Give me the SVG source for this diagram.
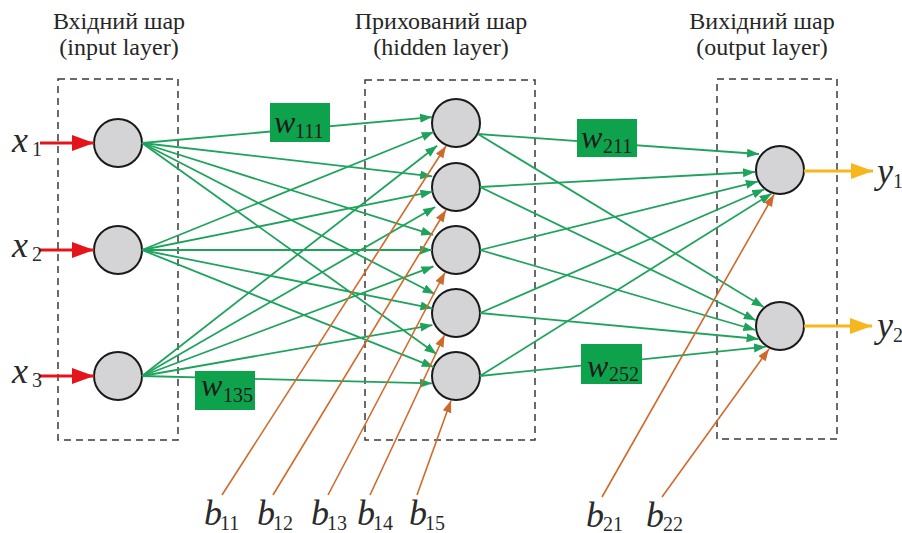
<svg xmlns="http://www.w3.org/2000/svg" width="902" height="533" viewBox="0 0 902 533">
<defs>
<marker id="ag" markerUnits="userSpaceOnUse" markerWidth="13" markerHeight="10" refX="12" refY="4.5" orient="auto"><path d="M0,0 L12,4.5 L0,9 Z" fill="#1fa35c"/></marker>
<marker id="ao" markerUnits="userSpaceOnUse" markerWidth="13" markerHeight="10" refX="12" refY="4.5" orient="auto"><path d="M0,0 L12,4.5 L0,9 Z" fill="#cf6a2a"/></marker>
<marker id="ar" markerUnits="userSpaceOnUse" markerWidth="23" markerHeight="17" refX="22" refY="8" orient="auto"><path d="M0,0 L22,8 L0,16 Z" fill="#e5141b"/></marker>
<marker id="ay" markerUnits="userSpaceOnUse" markerWidth="23" markerHeight="17" refX="22" refY="8" orient="auto"><path d="M0,0 L22,8 L0,16 Z" fill="#f6b71c"/></marker>
</defs>
<rect width="902" height="533" fill="#ffffff"/>

<g id="titles" fill="#262626">
<text font-family="Liberation Serif" font-size="24" text-anchor="middle" x="119" y="29">Вхідний шар</text>
<text font-family="Liberation Serif" font-size="24" text-anchor="middle" x="119" y="55">(input layer)</text>
<text font-family="Liberation Serif" font-size="24" text-anchor="middle" x="441" y="29">Прихований шар</text>
<text font-family="Liberation Serif" font-size="24" text-anchor="middle" x="441" y="55">(hidden layer)</text>
<text font-family="Liberation Serif" font-size="24" text-anchor="middle" x="762" y="29">Вихідний шар</text>
<text font-family="Liberation Serif" font-size="24" text-anchor="middle" x="762" y="55">(output layer)</text>
</g>

<g id="layers" fill="none" stroke="#3a3a3a" stroke-width="1.5" stroke-dasharray="7 5">
<rect x="58" y="79" width="120" height="361"/>
<rect x="365" y="80" width="170" height="360"/>
<rect x="717" y="79" width="120" height="360"/>
</g>

<g id="nodes" fill="#d4d4d7" stroke="#1a1a1a" stroke-width="2">
<g id="in1"><circle cx="118" cy="143" r="24"/></g>
<g id="in2"><circle cx="118" cy="250" r="24"/></g>
<g id="in3"><circle cx="118" cy="376" r="24"/></g>
<g id="h1"><circle cx="456" cy="123" r="24"/></g>
<g id="h2"><circle cx="456" cy="187" r="24"/></g>
<g id="h3"><circle cx="456" cy="250" r="24"/></g>
<g id="h4"><circle cx="456" cy="313" r="24"/></g>
<g id="h5"><circle cx="456" cy="376" r="24"/></g>
<g id="out1"><circle cx="780" cy="170" r="24"/></g>
<g id="out2"><circle cx="780" cy="326" r="24"/></g>
</g>

<g id="connectors" fill="none">
<g id="inputs" stroke="#e5141b" stroke-width="3" marker-end="url(#ar)">
<line x1="40" y1="143" x2="94" y2="143"/>
<line x1="40" y1="250" x2="94" y2="250"/>
<line x1="40" y1="376" x2="94" y2="376"/>
</g>
<g id="weights-links" stroke="#1fa35c" stroke-width="1.8" marker-end="url(#ag)">
<line x1="142" y1="143" x2="432.1" y2="117.1"/>
<line x1="142" y1="143" x2="432.2" y2="176.3"/>
<line x1="142" y1="143" x2="433.1" y2="234.8"/>
<line x1="142" y1="143" x2="434.7" y2="294"/>
<line x1="142" y1="143" x2="436.5" y2="354"/>
<line x1="142" y1="250" x2="433.7" y2="132"/>
<line x1="142" y1="250" x2="432.5" y2="191.7"/>
<line x1="142" y1="250" x2="432" y2="250"/>
<line x1="142" y1="250" x2="432.5" y2="308.3"/>
<line x1="142" y1="250" x2="433.7" y2="367.1"/>
<line x1="142" y1="376" x2="437.1" y2="145.8"/>
<line x1="142" y1="376" x2="435.2" y2="207"/>
<line x1="142" y1="376" x2="433.5" y2="266.4"/>
<line x1="142" y1="376" x2="432.4" y2="325.1"/>
<line x1="142" y1="376" x2="432" y2="383.4"/>
<line x1="478" y1="134" x2="759" y2="154"/>
<line x1="480" y1="187" x2="755" y2="172"/>
<line x1="480" y1="250" x2="757.8" y2="181.6"/>
<line x1="480" y1="313" x2="764.2" y2="189.3"/>
<line x1="480" y1="376" x2="771.6" y2="193.5"/>
<line x1="478" y1="134" x2="763.7" y2="307"/>
<line x1="480" y1="187" x2="755.7" y2="320.2"/>
<line x1="480" y1="250" x2="755.3" y2="330"/>
<line x1="480" y1="313" x2="758.6" y2="339"/>
<line x1="480" y1="376" x2="765.9" y2="346.7"/>
</g>
<g id="biases" stroke="#cf6a2a" stroke-width="1.6" marker-end="url(#ao)">
<line x1="222" y1="495" x2="446" y2="146"/>
<line x1="273" y1="495" x2="446" y2="210"/>
<line x1="328" y1="495" x2="445" y2="272.5"/>
<line x1="370" y1="495" x2="444.5" y2="335"/>
<line x1="417" y1="495" x2="451" y2="400.5"/>
<line x1="602" y1="497" x2="774" y2="194.5"/>
<line x1="662" y1="497" x2="769" y2="349"/>
</g>
<g id="outputs" stroke="#f6b71c" stroke-width="3" marker-end="url(#ay)">
<line x1="804" y1="171" x2="873" y2="171"/>
<line x1="804" y1="326" x2="872" y2="326"/>
</g>
</g>

<g id="weights">
<g id="w111"><rect fill="#0fa24c" x="270" y="103" width="60" height="39"/><text font-family="Liberation Serif" font-style="italic" font-size="32" fill="#1c1c1c" x="274" y="133">w<tspan font-style="normal" font-size="20" x="295" y="138">111</tspan></text></g>
<g id="w211"><rect fill="#0fa24c" x="577" y="119" width="60" height="38"/><text font-family="Liberation Serif" font-style="italic" font-size="32" fill="#1c1c1c" x="581" y="148">w<tspan font-style="normal" font-size="20" x="603" y="153">211</tspan></text></g>
<g id="w135"><rect fill="#0fa24c" x="195" y="371" width="60" height="39"/><text font-family="Liberation Serif" font-style="italic" font-size="32" fill="#1c1c1c" x="201" y="396">w<tspan font-style="normal" font-size="20" x="223" y="402">135</tspan></text></g>
<g id="w252"><rect fill="#0fa24c" x="581" y="344" width="61" height="40"/><text font-family="Liberation Serif" font-style="italic" font-size="32" fill="#1c1c1c" x="587" y="377">w<tspan font-style="normal" font-size="20" x="609" y="381">252</tspan></text></g>
</g>

<g id="labels" fill="#2a2a2a">
<text font-family="Liberation Serif" font-style="italic" font-size="36" x="12" y="152">x<tspan font-style="normal" font-size="20" x="32" y="156">1</tspan></text>
<text font-family="Liberation Serif" font-style="italic" font-size="36" x="12" y="257">x<tspan font-style="normal" font-size="20" x="32" y="261">2</tspan></text>
<text font-family="Liberation Serif" font-style="italic" font-size="36" x="12" y="383">x<tspan font-style="normal" font-size="20" x="32" y="387">3</tspan></text>
<text font-family="Liberation Serif" font-style="italic" font-size="36" x="877" y="183">y<tspan font-style="normal" font-size="20" x="893" y="188">1</tspan></text>
<text font-family="Liberation Serif" font-style="italic" font-size="36" x="877" y="337">y<tspan font-style="normal" font-size="20" x="893" y="342">2</tspan></text>
<text font-family="Liberation Serif" font-style="italic" font-size="36" x="204" y="525">b<tspan font-style="normal" font-size="20" x="220" y="530">11</tspan></text>
<text font-family="Liberation Serif" font-style="italic" font-size="36" x="257" y="525">b<tspan font-style="normal" font-size="20" x="273" y="530">12</tspan></text>
<text font-family="Liberation Serif" font-style="italic" font-size="36" x="311" y="525">b<tspan font-style="normal" font-size="20" x="327" y="530">13</tspan></text>
<text font-family="Liberation Serif" font-style="italic" font-size="36" x="357" y="525">b<tspan font-style="normal" font-size="20" x="373" y="530">14</tspan></text>
<text font-family="Liberation Serif" font-style="italic" font-size="36" x="409" y="525">b<tspan font-style="normal" font-size="20" x="425" y="530">15</tspan></text>
<text font-family="Liberation Serif" font-style="italic" font-size="36" x="586" y="527">b<tspan font-style="normal" font-size="20" x="603" y="531">21</tspan></text>
<text font-family="Liberation Serif" font-style="italic" font-size="36" x="646" y="527">b<tspan font-style="normal" font-size="20" x="663" y="531">22</tspan></text>
</g>
</svg>
